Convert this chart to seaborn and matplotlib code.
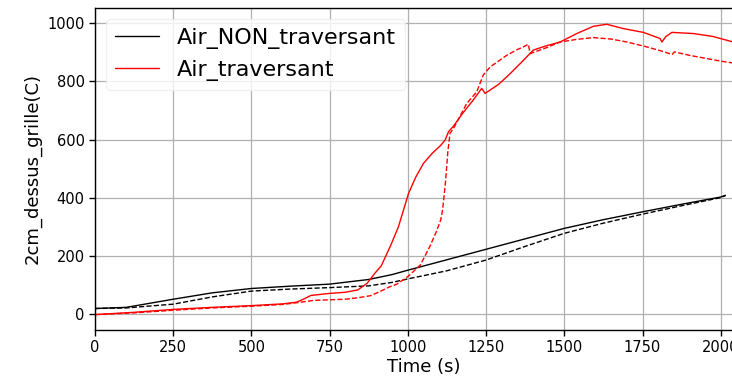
import matplotlib
matplotlib.use("Agg")
import matplotlib.pyplot as plt
import seaborn as sns
import pandas as pd

# ---- data ----
non_trav_1_t = [0, 100, 250, 375, 500, 625, 750, 875, 950, 1000, 1125, 1250, 1375, 1500, 1625, 1750, 1875, 2000, 2015]
non_trav_1_y = [18, 22, 50, 72, 87, 95, 102, 118, 135, 150, 186, 222, 258, 294, 324, 351, 377, 402, 408]

non_trav_2_t = [0, 100, 250, 375, 500, 625, 750, 875, 950, 1000, 1125, 1250, 1375, 1500, 1625, 1750, 1875, 2000, 2015]
non_trav_2_y = [18, 20, 33, 58, 78, 85, 90, 96, 108, 120, 148, 185, 232, 277, 312, 343, 372, 400, 407]

trav_1_t = [0, 125, 250, 375, 500, 600, 645, 670, 690, 750, 800, 840, 870, 895, 915, 945, 970, 1002,
            1025, 1050, 1080, 1105, 1119, 1130, 1145, 1175, 1209, 1236, 1247, 1290, 1327, 1365, 1401,
            1440, 1487, 1540, 1593, 1636, 1689, 1753, 1806, 1812, 1825, 1844, 1913, 1975, 2060]
trav_1_y = [-3, 5, 15, 22, 28, 34, 40, 52, 63, 70, 74, 82, 105, 140, 165, 235, 300, 414,
            470, 518, 555, 580, 598, 627, 645, 690, 736, 776, 759, 790, 827, 868, 908,
            922, 936, 965, 990, 997, 982, 969, 948, 936, 955, 969, 965, 955, 930]

trav_2_t = [0, 125, 250, 375, 500, 600, 645, 700, 750, 800, 840, 880, 910, 940, 965, 1000, 1040, 1070,
            1090, 1105, 1111, 1120, 1128, 1135, 1146, 1188, 1220, 1241, 1263, 1316, 1350, 1369, 1385,
            1391, 1440, 1487, 1540, 1593, 1650, 1700, 1760, 1810, 1845, 1852, 1900, 1960, 2000, 2060]
trav_2_y = [-3, 3, 12, 20, 26, 32, 38, 46, 48, 50, 55, 62, 76, 92, 102, 128, 168, 231,
            280, 323, 357, 450, 560, 622, 638, 724, 764, 822, 850, 890, 910, 919, 928,
            896, 915, 936, 945, 951, 946, 936, 920, 905, 893, 902, 890, 878, 870, 860]

x_ticks = [0, 250, 500, 750, 1000, 1250, 1500, 1750, 2000]
y_ticks = [0, 200, 400, 600, 800, 1000]

sns.set_style("white")
plt.rcParams['font.family'] = ['DejaVu Sans']
plt.rcParams['text.color'] = 'black'
plt.rcParams['axes.labelcolor'] = 'black'
plt.rcParams['xtick.color'] = 'black'
plt.rcParams['ytick.color'] = 'black'

fig = plt.figure(figsize=(7.32, 3.79), dpi=100)
ax = fig.add_axes([95 / 732, 49 / 379, 657 / 732, 322 / 379])

series = [
    (non_trav_1_t, non_trav_1_y, 'black', '-', 'Air_NON_traversant'),
    (non_trav_2_t, non_trav_2_y, 'black', '--', None),
    (trav_1_t, trav_1_y, 'red', '-', 'Air_traversant'),
    (trav_2_t, trav_2_y, 'red', '--', None),
]
for t, y, c, ls, lab in series:
    df = pd.DataFrame({'t': t, 'y': y})
    sns.lineplot(data=df, x='t', y='y', ax=ax, color=c, linestyle=ls, lw=1.0,
                 label=lab, sort=False, estimator=None, legend=bool(lab))

ax.set_xlim(0, 2100)
ax.set_ylim(-56, 1053)
ax.set_xticks(x_ticks)
ax.set_yticks(y_ticks)
ax.grid(True, color='#b0b0b0', lw=0.9)
ax.set_axisbelow(True)
for s in ax.spines.values():
    s.set_color('black')
    s.set_linewidth(1.0)
ax.tick_params(axis='both', direction='out', length=4, width=1, labelsize=10.5,
               bottom=True, left=True, colors='black')
ax.set_xlabel('Time (s)', fontsize=13, labelpad=2, color='black')
ax.set_ylabel('2cm_dessus_grille(C)', fontsize=13, color='black')

leg = ax.legend(loc='upper left', fontsize=16, framealpha=0.8, edgecolor='0.93')
for txt in leg.get_texts():
    txt.set_color('black')

fig.savefig('out.png', dpi=100)
